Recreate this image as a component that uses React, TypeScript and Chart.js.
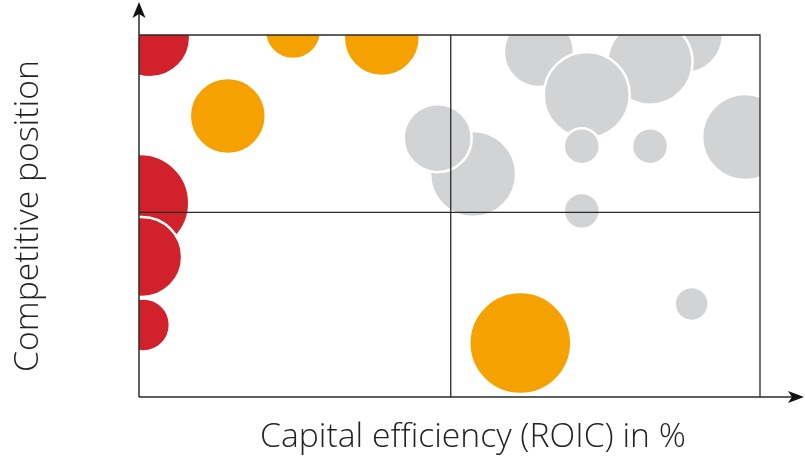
import React, { useEffect, useRef } from "react";
import { Chart, registerables } from "chart.js";

Chart.register(...registerables);

const xAxisTitle = "Capital efficiency (ROIC) in %";
const yAxisTitle = "Competitive position";

const xMidValue = 50.2;
const yMidValue = 51;

const redSeries = [
  { x: 1.8, y: 99.4, r: 40 },
  { x: 0.2, y: 53.6, r: 49 },
  { x: 0.5, y: 38.7, r: 40 },
  { x: 0.7, y: 19.9, r: 26.5 },
];

const orangeSeries = [
  { x: 14.3, y: 77.6, r: 38 },
  { x: 24.8, y: 101.1, r: 28 },
  { x: 39.1, y: 99.2, r: 38 },
  { x: 61.4, y: 14.9, r: 51 },
];

const graySeries = [
  { x: 64.4, y: 95.3, r: 35 },
  { x: 87.9, y: 100, r: 38 },
  { x: 82.3, y: 92.5, r: 42.5 },
  { x: 72.1, y: 83.4, r: 43 },
  { x: 71.3, y: 69.3, r: 18 },
  { x: 82.3, y: 69.3, r: 18 },
  { x: 97.6, y: 71.8, r: 43 },
  { x: 53.8, y: 61.6, r: 43 },
  { x: 48.1, y: 71.5, r: 34 },
  { x: 71.3, y: 51.4, r: 18 },
  { x: 89.0, y: 25.7, r: 17 },
];

const RED = "#d1222b";
const ORANGE = "#f5a200";
const GRAY = "#d2d3d5";
const LINE = "#2b2b2b";

const FONT = "'Open Sans', 'Lato', sans-serif";

function fitFont(ctx: CanvasRenderingContext2D, text: string, width: number) {
  ctx.font = `300 20px ${FONT}`;
  const w = ctx.measureText(text).width;
  return (20 * width) / w;
}

const overlayPlugin = {
  id: "overlay",
  afterDatasetsDraw(chart: any) {
    const { ctx, chartArea, scales } = chart;
    const { left, right, top, bottom } = chartArea;
    const xm = scales.x.getPixelForValue(xMidValue);
    const ym = scales.y.getPixelForValue(yMidValue);
    ctx.save();
    ctx.strokeStyle = LINE;
    ctx.lineWidth = 1.3;
    // box
    ctx.beginPath();
    ctx.moveTo(left, top);
    ctx.lineTo(right, top);
    ctx.lineTo(right, bottom);
    ctx.stroke();
    // quadrants
    ctx.beginPath();
    ctx.moveTo(xm, top);
    ctx.lineTo(xm, bottom);
    ctx.moveTo(left, ym);
    ctx.lineTo(right, ym);
    ctx.stroke();
    // axes with arrows
    const yTip = 2;
    const xTip = chart.width - 1;
    ctx.lineWidth = 1.5;
    ctx.beginPath();
    ctx.moveTo(left, bottom);
    ctx.lineTo(left, yTip + 8);
    ctx.moveTo(left, bottom);
    ctx.lineTo(xTip - 8, bottom);
    ctx.stroke();
    ctx.fillStyle = "#111";
    ctx.beginPath();
    ctx.moveTo(left, yTip);
    ctx.lineTo(left + 6.5, yTip + 16);
    ctx.lineTo(left, yTip + 12);
    ctx.lineTo(left - 6.5, yTip + 16);
    ctx.closePath();
    ctx.fill();
    ctx.beginPath();
    ctx.moveTo(xTip, bottom);
    ctx.lineTo(xTip - 16, bottom - 6);
    ctx.lineTo(xTip - 12, bottom);
    ctx.lineTo(xTip - 16, bottom + 6);
    ctx.closePath();
    ctx.fill();
    // titles
    ctx.fillStyle = "#222";
    ctx.textAlign = "center";
    ctx.textBaseline = "middle";
    const fx = fitFont(ctx, xAxisTitle, 426);
    ctx.font = `300 ${fx}px ${FONT}`;
    ctx.fillText(xAxisTitle, 473, 437);
    const fy = fitFont(ctx, yAxisTitle, 312);
    ctx.font = `300 ${fy}px ${FONT}`;
    ctx.translate(28, 216);
    ctx.rotate(-Math.PI / 2);
    ctx.fillText(yAxisTitle, 0, 0);
    ctx.restore();
  },
};

export default function App() {
  const ref = useRef<HTMLCanvasElement | null>(null);
  useEffect(() => {
    if (!ref.current) return;
    const mk = (data: any[], color: string, order: number) => ({
      data,
      backgroundColor: color,
      hoverBackgroundColor: color,
      borderColor: "#ffffff",
      hoverBorderColor: "#ffffff",
      borderWidth: 2.5,
      hoverBorderWidth: 2.5,
      clip: 0,
      order,
    });
    const chart = new Chart(ref.current, {
      type: "bubble",
      data: {
        datasets: [
          mk(redSeries, RED, 3),
          mk(orangeSeries, ORANGE, 2),
          mk(graySeries, GRAY, 1),
        ] as any,
      },
      options: {
        responsive: false,
        animation: false,
        events: [],
        layout: {
          autoPadding: false,
          padding: { left: 139, top: 35, right: 45, bottom: 60 },
        },
        scales: {
          x: { type: "linear", min: 0, max: 100, display: false },
          y: { type: "linear", min: 0, max: 100, display: false },
        },
        plugins: {
          legend: { display: false },
          tooltip: { enabled: false },
        },
      } as any,
      plugins: [overlayPlugin],
    });
    return () => chart.destroy();
  }, []);
  return (
    <div style={{ position: "fixed", left: 0, top: 0, width: 805, height: 457, background: "#fff" }}>
      <canvas ref={ref} width={805} height={457} style={{ width: 805, height: 457, display: "block" }} />
    </div>
  );
}
